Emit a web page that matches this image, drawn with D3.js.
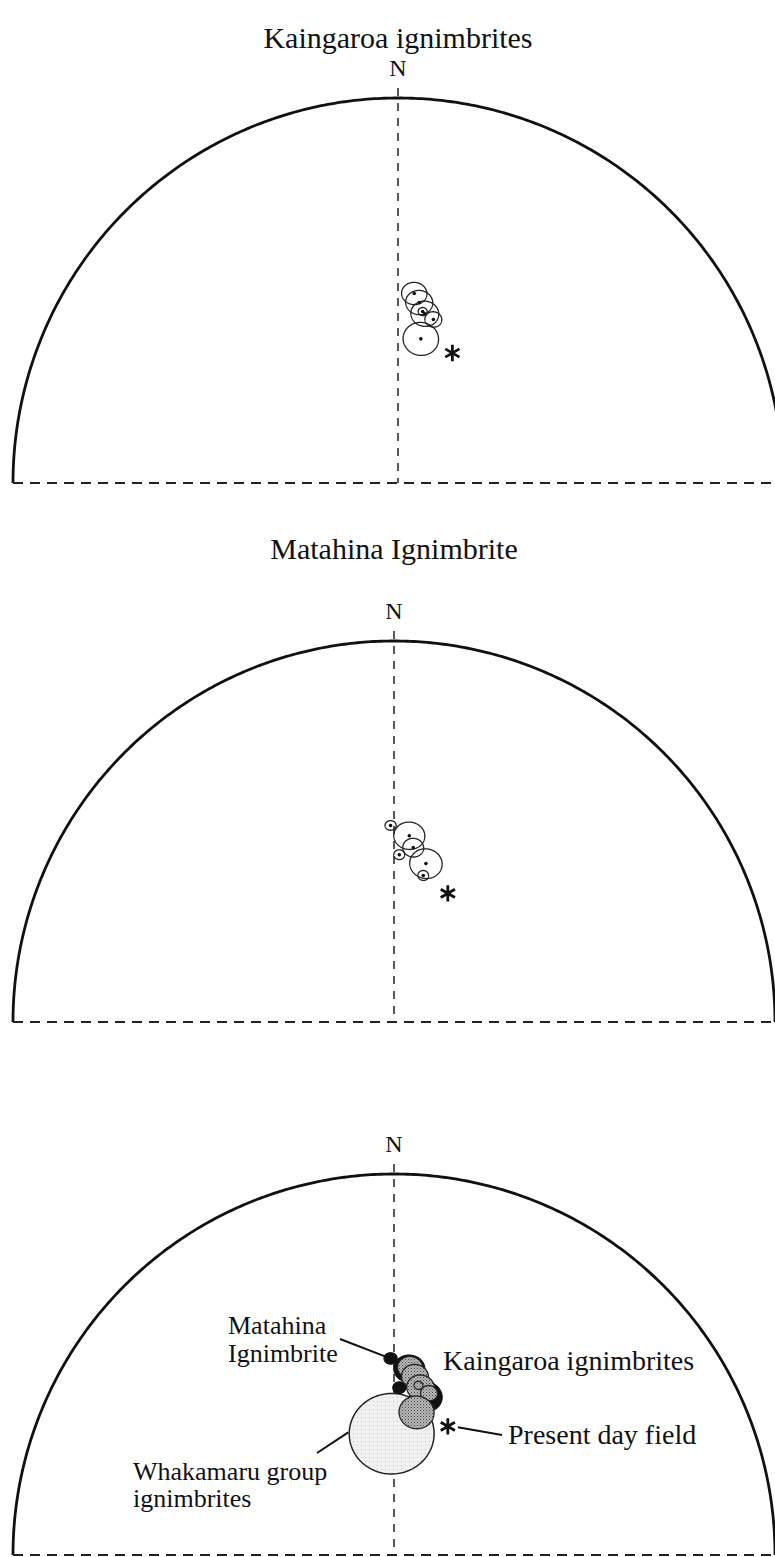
<!DOCTYPE html>
<html>
<head>
<meta charset="utf-8">
<script src="https://cdn.jsdelivr.net/npm/d3@7"></script>
<style>
  body { margin: 0; background: #fff; }
  svg { display: block; }
  text { font-family: "Liberation Serif", "Times New Roman", serif; fill: #111; }
</style>
</head>
<body>
<svg id="fig" width="775" height="1557"></svg>
<script>
// Site-mean palaeomagnetic directions: declination (deg), inclination (deg), alpha95 (deg)
const kaingaroaDec = [4.9, 6.7, 9.0, 8.2, 12.2, 9.0];
const kaingaroaInc = [-49.1, -51.0, -53.3, -52.9, -54.2, -58.9];
const kaingaroaA95 = [2.5, 2.7, 2.8, 0.9, 1.7, 3.6];

const matahinaDec = [359.0, 4.7, 6.3, 1.8, 11.4, 11.3];
const matahinaInc = [-47.2, -49.4, -52.0, -53.8, -55.1, -57.8];
const matahinaA95 = [1.1, 3.1, 2.1, 1.1, 3.3, 1.1];

const whakamaruDec = [358.9];
const whakamaruInc = [-63.9];
const whakamaruA95 = [8.8];

// Present day geomagnetic field direction
const presentDec = [22.7];
const presentInc = [-60.0];

const panelTitles = ["Kaingaroa ignimbrites", "Matahina Ignimbrite", ""];
const northLabel = "N";
const annotationLabels = {
  matahina: ["Matahina", "Ignimbrite"],
  kaingaroa: ["Kaingaroa ignimbrites"],
  present: ["Present day field"],
  whakamaru: ["Whakamaru group", "ignimbrites"]
};

const svg = d3.select("#fig");
const W = 775;

// Stipple fills for the summary net
const defs = svg.append("defs");
const pk = defs.append("pattern").attr("id", "stippleDark")
  .attr("patternUnits", "userSpaceOnUse").attr("width", 3).attr("height", 3);
pk.append("rect").attr("width", 3).attr("height", 3).attr("fill", "#b8b8b8");
pk.append("rect").attr("x", 0).attr("y", 0).attr("width", 1).attr("height", 1).attr("fill", "#444");
pk.append("rect").attr("x", 1.5).attr("y", 1.5).attr("width", 1).attr("height", 1).attr("fill", "#666");
const pw = defs.append("pattern").attr("id", "stippleLight")
  .attr("patternUnits", "userSpaceOnUse").attr("width", 4).attr("height", 4);
pw.append("rect").attr("width", 4).attr("height", 4).attr("fill", "#f1f1f1");
pw.append("rect").attr("x", 1).attr("y", 1).attr("width", 1).attr("height", 1).attr("fill", "#c6c6c6");

// Lambert equal-area projection of an upward-pointing direction onto the unit net
function project(dec, incAbs) {
  const colat = (90 - incAbs) * Math.PI / 180;
  const r = Math.SQRT2 * Math.sin(colat / 2);
  const d = dec * Math.PI / 180;
  return [r * Math.sin(d), r * Math.cos(d)];
}

// Projected cone of confidence (small circle of radius a95 about the mean)
function coneRing(dec, inc, a95) {
  const ring = d3.geoCircle().center([dec, Math.abs(inc)]).radius(a95).precision(2)();
  return ring.coordinates[0].map(([lon, lat]) => project(lon, lat));
}

function makeSite(decs, incs, a95s) {
  return decs.map((d, i) => ({ dec: d, inc: incs[i], a95: a95s[i] }));
}
const kaingaroa = makeSite(kaingaroaDec, kaingaroaInc, kaingaroaA95);
const matahina = makeSite(matahinaDec, matahinaInc, matahinaA95);
const whakamaru = makeSite(whakamaruDec, whakamaruInc, whakamaruA95);
const present = presentDec.map((d, i) => ({ dec: d, inc: presentInc[i] }));

const panels = [
  { cx: 398, base: 483, R: 385, title: panelTitles[0], titleY: 48, sites: kaingaroa },
  { cx: 394, base: 1022, R: 381, title: panelTitles[1], titleY: 559, sites: matahina },
  { cx: 394, base: 1555, R: 381, title: panelTitles[2], titleY: 0, sites: null }
];

function drawNet(p) {
  const x = d3.scaleLinear().domain([-1, 1]).range([p.cx - p.R, p.cx + p.R]);
  const y = d3.scaleLinear().domain([0, 1]).range([p.base, p.base - p.R]);
  const line = d3.line().x(d => x(d[0])).y(d => y(d[1]));
  const g = svg.append("g");

  // primitive (horizontal plane), upper half
  const prim = d3.range(-90, 90.01, 0.5).map(d => project(d, 0));
  g.append("path").attr("d", line(prim))
    .attr("fill", "none").attr("stroke", "#111").attr("stroke-width", 2.8);

  // E-W baseline and N-S axis
  g.append("line").attr("x1", x(-1)).attr("x2", W).attr("y1", y(0)).attr("y2", y(0))
    .attr("stroke", "#222").attr("stroke-width", 2).attr("stroke-dasharray", "10,7");
  g.append("line").attr("x1", x(0)).attr("x2", x(0)).attr("y1", y(1) - 10).attr("y2", y(0))
    .attr("stroke", "#222").attr("stroke-width", 1.5).attr("stroke-dasharray", "8,7");

  g.append("text").attr("x", x(0)).attr("y", y(1) - 22).attr("text-anchor", "middle")
    .attr("font-size", 24).text(northLabel);
  if (p.title) {
    g.append("text").attr("x", x(0)).attr("y", p.titleY).attr("text-anchor", "middle")
      .attr("font-size", 30).text(p.title);
  }
  return { g, x, y, line };
}

function drawStar(ctx, s) {
  const [px, py] = project(s.dec, Math.abs(s.inc));
  ctx.g.append("path")
    .attr("transform", `translate(${ctx.x(px)},${ctx.y(py)})`)
    .attr("d", d3.symbol(d3.symbolAsterisk, 190)())
    .attr("fill", "none").attr("stroke", "#111").attr("stroke-width", 2.8);
  return [ctx.x(px), ctx.y(py)];
}

// Panels 1 and 2: open confidence circles with site means
panels.slice(0, 2).forEach(p => {
  const ctx = drawNet(p);
  p.sites.forEach(s => {
    ctx.g.append("path").attr("d", ctx.line(coneRing(s.dec, s.inc, s.a95)))
      .attr("fill", "none").attr("stroke", "#222").attr("stroke-width", 1.3);
    const [px, py] = project(s.dec, Math.abs(s.inc));
    ctx.g.append("circle").attr("cx", ctx.x(px)).attr("cy", ctx.y(py)).attr("r", 1.8).attr("fill", "#111");
  });
  present.forEach(s => drawStar(ctx, s));
});

// Panel 3: summary of all three ignimbrite groups
const ctx3 = drawNet(panels[2]);
whakamaru.forEach(s => {
  ctx3.g.append("path").attr("d", ctx3.line(coneRing(s.dec, s.inc, s.a95)))
    .attr("fill", "url(#stippleLight)").attr("stroke", "#222").attr("stroke-width", 1.5);
});
matahina.forEach(s => {
  ctx3.g.append("path").attr("d", ctx3.line(coneRing(s.dec, s.inc, Math.max(s.a95, 1.3))))
    .attr("fill", "#111").attr("stroke", "#111").attr("stroke-width", 1.2);
});
kaingaroa.forEach(s => {
  ctx3.g.append("path").attr("d", ctx3.line(coneRing(s.dec, s.inc, s.a95)))
    .attr("fill", "url(#stippleDark)").attr("stroke", "#222").attr("stroke-width", 1.3);
});
const starXY = drawStar(ctx3, present[0]);

// Annotations and leader lines
function siteXY(s) {
  const [px, py] = project(s.dec, Math.abs(s.inc));
  return [ctx3.x(px), ctx3.y(py)];
}
const ann = ctx3.g.append("g");
const lead = (x1, y1, x2, y2) => ann.append("line")
  .attr("x1", x1).attr("y1", y1).attr("x2", x2).attr("y2", y2)
  .attr("stroke", "#111").attr("stroke-width", 2);

const matA = siteXY(matahina[0]);
lead(340, 1339, matA[0] - 3, matA[1] - 1);
annotationLabels.matahina.forEach((t, i) =>
  ann.append("text").attr("x", 228).attr("y", 1334 + i * 28).attr("font-size", 26).text(t));

const kgTop = siteXY(kaingaroa[1]);
ann.append("text").attr("x", 443).attr("y", kgTop[1] - 6).attr("font-size", 28)
  .text(annotationLabels.kaingaroa[0]);

lead(starXY[0] + 10, starXY[1] + 1, 502, 1435);
ann.append("text").attr("x", 508).attr("y", 1444).attr("font-size", 28).text(annotationLabels.present[0]);

const wRing = coneRing(whakamaru[0].dec, whakamaru[0].inc, whakamaru[0].a95)
  .map(d => [ctx3.x(d[0]), ctx3.y(d[1])]);
const wLeft = wRing.reduce((a, b) => (b[0] < a[0] ? b : a));
lead(317, 1453, wLeft[0] - 1, wLeft[1] - 1);
annotationLabels.whakamaru.forEach((t, i) =>
  ann.append("text").attr("x", 133).attr("y", 1480 + i * 27).attr("font-size", 26).text(t));
</script>
</body>
</html>
